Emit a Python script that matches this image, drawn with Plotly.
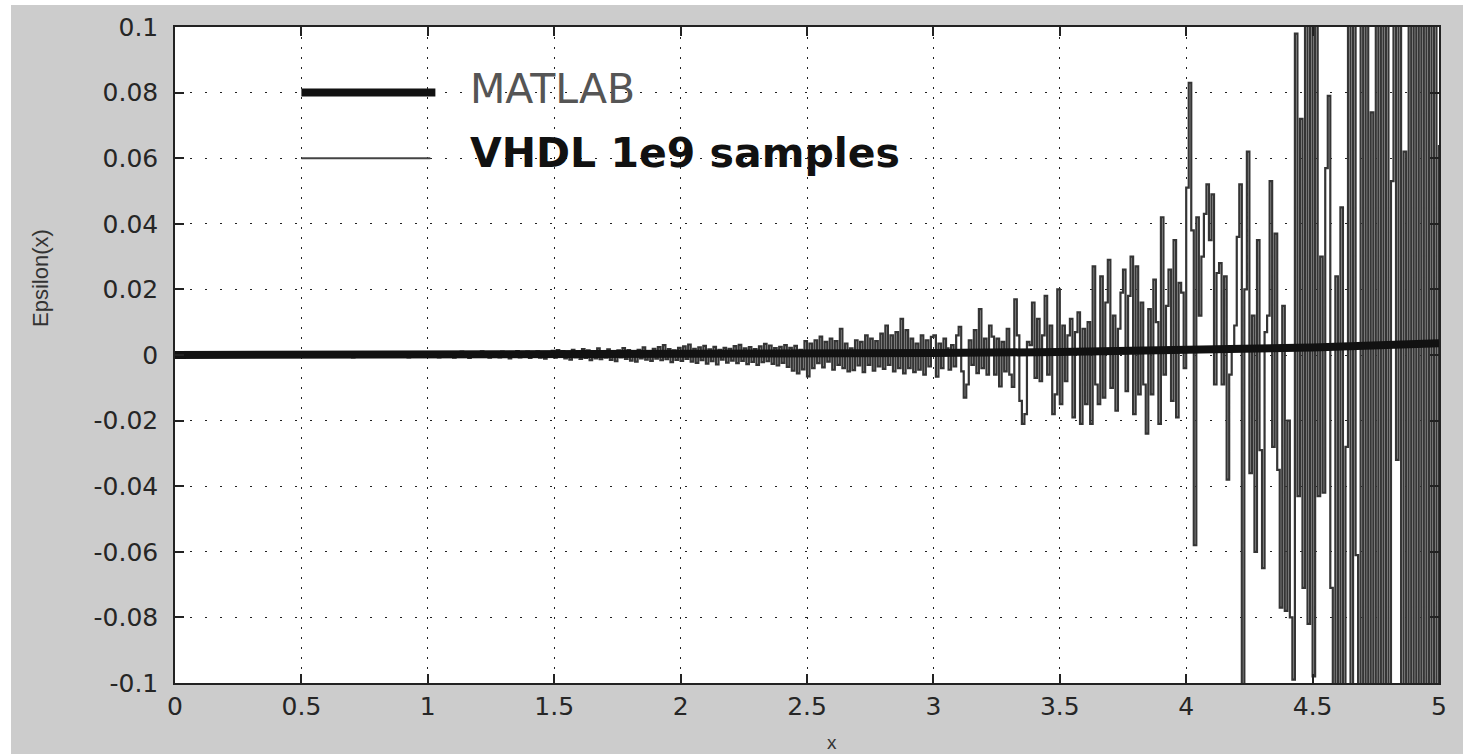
import numpy as np
import plotly.graph_objects as go

# ---------------- data ----------------
# VHDL error, in units of 1e-3, one value per sample, samples every 0.01 from x = 0
vhdl_err_0to1 = [
    0.0, 0.3, -0.2, 0.4, -0.3, 0.2, -0.4, 0.5, -0.2, 0.3,
    -0.3, 0.6, -0.2, 0.3, -0.5, 0.4, -0.1, 0.5, -0.3, 0.2,
    -0.4, 0.6, -0.2, 0.3, -0.3, 0.5, -0.4, 0.2, -0.2, 0.6,
    -0.3, 0.4, -0.5, 0.3, -0.2, 0.5, -0.3, 0.6, -0.4, 0.2,
    -0.3, 0.5, -0.2, 0.4, -0.6, 0.3, -0.2, 0.5, -0.4, 0.6,
    -0.2, 0.7, -0.5, 0.3, -0.4, 0.6, -0.3, 0.8, -0.2, 0.4,
    -0.6, 0.5, -0.3, 0.7, -0.4, 0.3, -0.5, 0.6, -0.2, 0.5,
    -0.7, 0.4, -0.3, 0.6, -0.5, 0.8, -0.2, 0.4, -0.6, 0.5,
    -0.3, 0.7, -0.4, 0.5, -0.6, 0.3, -0.5, 0.8, -0.3, 0.6,
    -0.4, 0.5, -0.7, 0.4, -0.3, 0.6, -0.5, 0.7, -0.2, 0.9,
]
vhdl_err_1to2 = [
    -0.5, 0.8, -0.4, 0.6, -0.7, 0.9, -0.3, 0.7, -0.6, 0.5,
    -0.8, 0.6, -0.4, 1.0, -0.5, 0.7, -0.9, 0.6, -0.3, 0.8,
    -0.6, 1.1, -0.5, 0.7, -0.8, 0.6, -0.4, 0.9, -0.7, 1.0,
    -0.5, 0.8, -1.0, 0.6, -0.4, 1.2, -0.7, 0.8, -0.6, 1.0,
    -0.9, 0.7, -0.5, 1.1, -0.8, 0.6, -1.1, 0.9, -0.6, 1.3,
    -0.8, 1.5, -0.6, 1.2, -1.0, 0.8, -1.4, 1.6, -0.7, 1.1,
    -1.2, 1.8, -0.9, 1.4, -1.6, 0.9, -1.0, 2.0, -1.3, 1.2,
    -0.8, 1.7, -1.5, 1.0, -1.9, 1.4, -0.7, 2.1, -1.2, 1.5,
    -1.7, 1.1, -2.0, 1.6, -1.0, 2.3, -1.4, 1.2, -1.8, 1.9,
    -1.1, 2.4, -1.6, 3.0, -1.3, 1.8, -2.2, 1.4, -1.5, 2.2,
]
vhdl_err_2to3 = [
    -1.8, 2.6, -1.2, 3.2, -2.0, 1.9, -2.4, 2.3, -1.6, 2.8,
    -2.6, 1.7, -1.9, 2.5, -2.9, 1.6, -1.4, 2.2, -2.3, 1.9,
    -1.7, 2.7, -2.5, 3.1, -1.8, 2.0, -2.8, 2.4, -2.1, 1.8,
    -3.0, 2.6, -2.2, 3.4, -1.9, 2.9, -2.7, 2.1, -3.2, 2.5,
    -2.4, 3.0, -3.6, 2.2, -4.8, 2.8, -5.6, 1.6, -4.4, 4.2,
    -6.5, 3.5, -4.0, 4.5, -2.5, 5.6, -3.8, 4.0, -2.0, 5.0,
    -4.5, 4.2, -3.0, 8.0, -4.0, 3.5, -5.0, 2.0, -4.6, 4.5,
    -3.2, 4.0, -5.2, 6.0, -3.0, 5.0, -4.8, 4.2, -3.5, 6.5,
    -4.2, 9.0, -3.0, 6.0, -5.0, 7.0, -4.0, 11.0, -5.6, 7.6,
    -4.0, 5.0, -5.2, 3.5, -4.5, 6.0, -6.0, 4.5, -3.5, 5.5,
]
vhdl_err_3to4 = [
    6.0, -6.6, 3.5, -4.0, 5.0, 2.0, -4.5, 3.0, -3.5, 6.0,
    8.6, -5.0, -13.0, -9.0, 4.5, -3.0, 7.6, -5.5, 14.0, -4.0,
    5.0, -6.0, 9.0, 5.6, -6.0, 5.0, -9.6, 4.0, -5.0, 8.0,
    -6.0, -9.7, 17.0, 6.0, -14.0, -21.0, -18.0, 4.0, 3.0, 16.0,
    -7.0, 11.0, -8.0, 6.0, 18.0, -6.0, 9.0, -18.0, -12.0, 20.0,
    -15.0, 9.0, -8.0, 6.0, 11.0, -19.0, 7.0, 13.0, -21.0, 8.0,
    -15.0, 10.0, -21.0, 27.0, -9.0, -15.0, 24.0, -13.0, 16.0, 29.0,
    -10.0, 12.0, -17.0, 8.0, 19.0, 26.0, -11.0, 18.0, 30.0, -18.0,
    27.0, -12.0, 16.0, -9.0, -24.0, 14.0, -12.0, 23.0, 10.0, -21.0,
    42.0, -6.0, 15.0, 26.0, -14.0, 35.0, -19.0, 22.0, 19.0, -4.0,
]
vhdl_err_4to5 = [
    51, 83, 38, -58, 42, 12, 30, 43, 52, 35,
    49, -9, 25, 28, -9, 24, -38, -6, 2, 9,
    36, 52, -115, 20, 62, -36, 12, -60, 35, -29,
    -65, 7, 12, 53, -28, 37, -35, -77, 15, -78,
    -20, -80, -99, 98, -43, 72, -71, 115, -82, 120,
    -98, 130, -43, 30, -42, 57, 79, -71, -120, 24,
    -115, 45, -125, -28, 130, -130, 140, -61, -130, 135,
    -140, 130, -150, 74, -150, 125, -140, 130, -130, 120,
    -140, 53, 120, -32, 125, -125, 62, -130, 130, -130,
    125, -120, 140, -130, 120, -125, 130, -120, 110, -115,
    64,
]
vhdl_x_start = 0.0
vhdl_x_step = 0.01

# MATLAB reference error (units of 1e-3)
matlab_x = [0, 0.5, 1, 1.5, 2, 2.5, 3, 3.5, 4, 4.5, 5]
matlab_err = [0, 0, 0.05, 0.1, 0.2, 0.35, 0.6, 0.9, 1.4, 2.3, 3.6]

x_tick_vals = [0, 0.5, 1, 1.5, 2, 2.5, 3, 3.5, 4, 4.5, 5]
x_tick_text = ["0", "0.5", "1", "1.5", "2", "2.5", "3", "3.5", "4", "4.5", "5"]
y_tick_vals = [0.1, 0.08, 0.06, 0.04, 0.02, 0, -0.02, -0.04, -0.06, -0.08, -0.1]
y_tick_text = ["0.1", "0.08", "0.06", "0.04", "0.02", "0", "-0.02", "-0.04", "-0.06", "-0.08", "-0.1"]

series_names = ["MATLAB", "VHDL 1e9 samples"]
# --------------------------------------------------------------------

milli = 1e-3
vhdl_y = np.array(vhdl_err_0to1 + vhdl_err_1to2 + vhdl_err_2to3 + vhdl_err_3to4 + vhdl_err_4to5) * milli
vhdl_x = vhdl_x_start + np.arange(len(vhdl_y)) * vhdl_x_step
matlab_y = np.array(matlab_err) * milli

W, H = 1463, 754
L, R, T, B = 175, 24, 27, 71
PW, PH = W - L - R, H - T - B

fig = go.Figure()
fig.add_trace(go.Scatter(x=vhdl_x, y=vhdl_y, mode="lines", name=series_names[1],
                         line=dict(color="#353535", width=2.2, shape="hv"), showlegend=False))
fig.add_trace(go.Scatter(x=matlab_x, y=matlab_y, mode="lines", name=series_names[0],
                         line=dict(color="#111111", width=8), showlegend=False))

# Legend drawn inside the axes (MATLAB style, no box)
fig.add_shape(type="line", xref="x", yref="y", x0=0.5, x1=1.03, y0=0.08, y1=0.08,
              line=dict(color="#111111", width=8), layer="above")
fig.add_shape(type="line", xref="x", yref="y", x0=0.5, x1=1.01, y0=0.06, y1=0.06,
              line=dict(color="#444444", width=2), layer="above")
fig.add_annotation(x=1.16, y=0.081, xref="x", yref="y", text=series_names[0], showarrow=False,
                   xanchor="left", yanchor="middle",
                   font=dict(family="DejaVu Sans", size=41, color="#555555"))
fig.add_annotation(x=1.16, y=0.0615, xref="x", yref="y", text="<b>" + series_names[1] + "</b>",
                   showarrow=False, xanchor="left", yanchor="middle",
                   font=dict(family="DejaVu Sans", size=41, color="#111111"))

# Axis titles
fig.add_annotation(x=(40 - L) / PW, y=1 - (278 - T) / PH, xref="paper", yref="paper",
                   text="Epsilon(x)", textangle=-90, showarrow=False,
                   xanchor="center", yanchor="middle",
                   font=dict(family="Liberation Sans Narrow, Liberation Sans", size=22, color="#333333"))
fig.add_annotation(x=(832 - L) / PW, y=-(742 - T - PH) / PH, xref="paper", yref="paper",
                   text="x", showarrow=False, xanchor="center", yanchor="middle",
                   font=dict(family="Liberation Sans", size=19, color="#333333"))

# white strips at the top and left edges of the figure
fig.add_shape(type="rect", xref="paper", yref="paper", x0=-L / PW, x1=(11 - L) / PW,
              y0=-B / PH, y1=1 + T / PH, fillcolor="white", line=dict(width=0), layer="below")
fig.add_shape(type="rect", xref="paper", yref="paper", x0=-L / PW, x1=1 + R / PW,
              y0=1 + (T - 5) / PH, y1=1 + T / PH, fillcolor="white", line=dict(width=0), layer="below")

tickfont = dict(family="DejaVu Sans", size=25, color="#262626")
fig.update_xaxes(range=[0, 5], tickvals=x_tick_vals, ticktext=x_tick_text,
                 ticks="inside", ticklen=9, tickwidth=1.5, tickcolor="#222222",
                 showline=True, linecolor="#222222", linewidth=1.5, mirror="ticks",
                 showgrid=True, gridcolor="#222222", gridwidth=1, griddash="2px,8px",
                 zeroline=False, tickfont=tickfont, ticklabelstandoff=0)
fig.update_yaxes(range=[-0.1, 0.1], tickvals=y_tick_vals, ticktext=y_tick_text,
                 ticks="inside", ticklen=9, tickwidth=1.5, tickcolor="#222222",
                 showline=True, linecolor="#222222", linewidth=1.5, mirror="ticks",
                 showgrid=True, gridcolor="#222222", gridwidth=1, griddash="2px,13px",
                 zeroline=False, tickfont=tickfont, ticklabelstandoff=10)
fig.update_layout(width=W, height=H, margin=dict(l=L, r=R, t=T, b=B, pad=0),
                  paper_bgcolor="#cccccc", plot_bgcolor="white", showlegend=False)

fig.write_html("out.html")
